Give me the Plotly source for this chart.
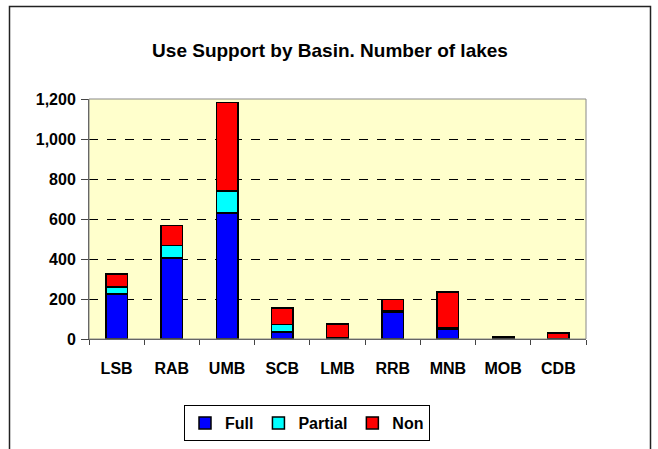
import plotly.graph_objects as go

basins = ["LSB", "RAB", "UMB", "SCB", "LMB", "RRB", "MNB", "MOB", "CDB"]
full = [224, 404, 631, 36, 8, 136, 50, 3, 2]
partial = [35, 63, 108, 36, 0, 5, 8, 1, 0]
non = [65, 100, 443, 82, 66, 56, 176, 5, 27]
y_ticks = [0, 200, 400, 600, 800, 1000, 1200]
y_labels = ["0", "200", "400", "600", "800", "1,000", "1,200"]

FONT = "Liberation Sans, Arial, sans-serif"

fig = go.Figure()
for name, vals, col in [("Full", full, "#0000FF"), ("Partial", partial, "#00FFFF"), ("Non", non, "#FF0000")]:
    fig.add_trace(go.Bar(x=basins, y=vals, name="<b>" + name + "</b>",
                         marker=dict(color=col, line=dict(color="black", width=1.5))))

L, R, T, B = 89, 586, 99, 339
W, H = R - L, B - T

def px(x):
    return (x - L) / W

def py(y):
    return (B - y) / H

fig.update_layout(
    width=658, height=449,
    margin=dict(l=L, r=658 - R, t=T, b=449 - B, autoexpand=False),
    barmode="stack", bargap=0.61,
    paper_bgcolor="white", plot_bgcolor="#FFFFCC",
    font=dict(family=FONT, size=15, color="black"),
    title=dict(text="<b>Use Support by Basin. Number of lakes</b>",
               x=330 / 658, xanchor="center", y=1 - 50 / 449, yanchor="middle",
               font=dict(size=19, family=FONT)),
    showlegend=True,
    legend=dict(orientation="h", x=px(307), y=py(405), xanchor="center", yanchor="top",
                bordercolor="black", borderwidth=1, bgcolor="white",
                font=dict(size=16, family=FONT), traceorder="normal",
                itemwidth=30),
    xaxis=dict(type="category", showline=True, linecolor="#444", linewidth=1,
               ticks="outside", tickson="boundaries", ticklen=5,
               tickcolor="#444", tickfont=dict(size=16, family=FONT),
               tickvals=basins, ticktext=["<b>" + b + "</b>" for b in basins],
               ticklabelstandoff=15),
    yaxis=dict(range=[0, 1200], tickvals=y_ticks,
               ticktext=["<b>" + s + "</b>" for s in y_labels],
               showline=True, linecolor="#444", linewidth=1, ticks="outside",
               ticklen=7, tickcolor="#444", showgrid=True, gridcolor="black",
               griddash="dash", gridwidth=1, tickfont=dict(size=16, family=FONT),
               zeroline=False, ticklabelstandoff=2),
    shapes=[
        dict(type="rect", xref="paper", yref="paper", x0=0, x1=1, y0=0, y1=1,
             line=dict(color="#888", width=1), layer="above"),
        dict(type="rect", xref="paper", yref="paper",
             x0=px(9.5), x1=px(650.5), y0=py(6.5), y1=py(460),
             line=dict(color="#222", width=1.5)),
    ],
)

fig.write_html("out.html", config={"displayModeBar": False},
               post_script="document.body.style.margin='0px';")
